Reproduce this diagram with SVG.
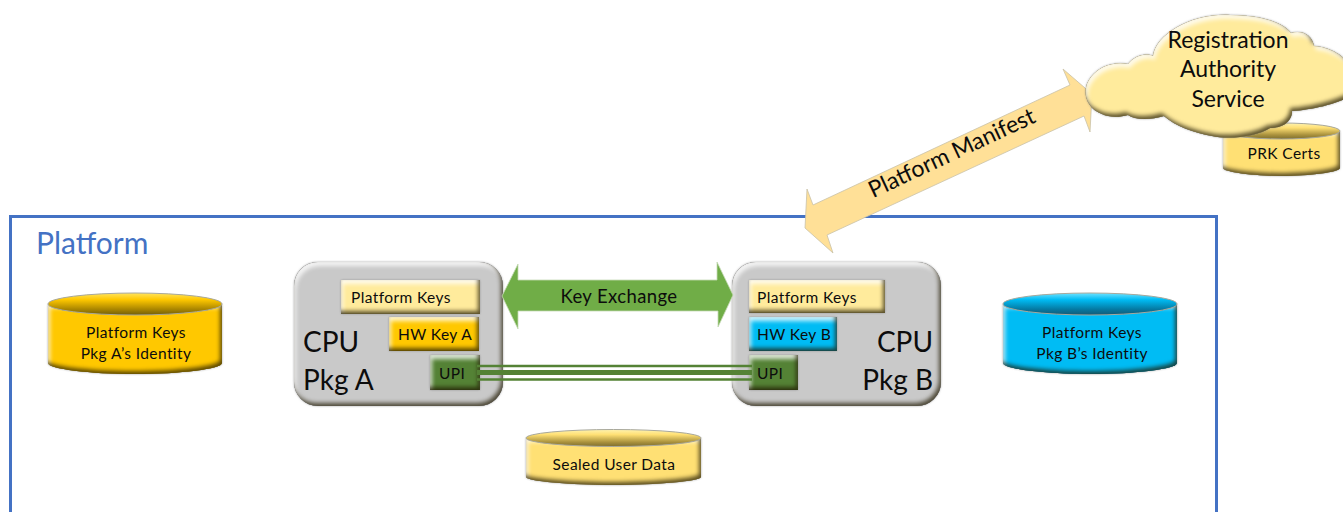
<svg xmlns="http://www.w3.org/2000/svg" width="1343" height="512" viewBox="0 0 1343 512">
<style>
text{font-family:"Lato","Carlito","Liberation Sans",sans-serif;fill:#0c0c0c}
.c{text-anchor:middle}
.s15{font-size:15.5px;letter-spacing:.4px}
.s17{font-size:18.500px;letter-spacing:.4px}
.s23{font-size:23px}
.big{font-size:28px}
.bev{filter:url(#bevel)}
.rim{stroke:#a8a89c;stroke-width:1}
.link{stroke:#548235;fill:none}
</style>
<defs>
<filter id="bevel" x="-8%" y="-8%" width="116%" height="116%" color-interpolation-filters="sRGB">
<feGaussianBlur in="SourceAlpha" stdDeviation="2" result="b"/>
<feOffset in="b" dx="2" dy="3.500" result="o1"/>
<feComposite in="SourceAlpha" in2="o1" operator="out" result="hi"/>
<feFlood flood-color="#fff" flood-opacity=".8"/>
<feComposite in2="hi" operator="in" result="hiC"/>
<feOffset in="b" dx="-2" dy="-3.500" result="o2"/>
<feComposite in="SourceAlpha" in2="o2" operator="out" result="lo"/>
<feFlood flood-color="#1e1800" flood-opacity=".72"/>
<feComposite in2="lo" operator="in" result="loC"/>
<feDropShadow in="SourceAlpha" dx="0" dy="0" stdDeviation="1" flood-color="#888" flood-opacity=".75" result="edge"/>
<feMerge><feMergeNode in="edge"/><feMergeNode in="SourceGraphic"/><feMergeNode in="hiC"/><feMergeNode in="loC"/></feMerge>
</filter>
<linearGradient id="topGold" x1="0" y1="0" x2="0" y2="1"><stop offset="0" stop-color="#ffe45f"/><stop offset=".3" stop-color="#ffc800"/><stop offset=".75" stop-color="#a88400"/><stop offset="1" stop-color="#6f5e0c"/></linearGradient>
<linearGradient id="topBlue" x1="0" y1="0" x2="0" y2="1"><stop offset="0" stop-color="#6fe2ff"/><stop offset=".3" stop-color="#00bcf4"/><stop offset=".75" stop-color="#0578a0"/><stop offset="1" stop-color="#155a75"/></linearGradient>
<linearGradient id="topPale" x1="0" y1="0" x2="0" y2="1"><stop offset="0" stop-color="#fff3b0"/><stop offset=".3" stop-color="#ffe074"/><stop offset=".75" stop-color="#a8903c"/><stop offset="1" stop-color="#7d6e30"/></linearGradient>
</defs>

<g id="platform">
<rect x="10.500" y="216.500" width="1206" height="320" fill="#fff" stroke="#4472c4" stroke-width="3"/>
<text x="36" y="254" font-size="30" style="fill:#4472c4">Platform</text>
</g>

<g id="cyl-a">
<path class="bev" d="M48 304V363C48 369 90 374 135 374S222 369 222 363V304Z" fill="#ffc800"/>
<ellipse class="rim" cx="135" cy="304" rx="87" ry="11" fill="url(#topGold)"/>
<text class="c s15" x="136" y="338">Platform Keys</text>
<text class="c s15" x="136" y="359">Pkg A’s Identity</text>
</g>

<g id="cyl-b">
<path class="bev" d="M1003 304V363C1003 369 1045 374 1090 374S1177 369 1177 363V304Z" fill="#00bcf4"/>
<ellipse class="rim" cx="1090" cy="304" rx="87" ry="11" fill="url(#topBlue)"/>
<text class="c s15" x="1092" y="338">Platform Keys</text>
<text class="c s15" x="1092" y="359">Pkg B’s Identity</text>
</g>

<g id="cyl-sealed">
<path class="bev" d="M526 438V477C526 481 570 485 613 485S701 481 701 477V438Z" fill="#ffe074"/>
<ellipse class="rim" cx="613.500" cy="438" rx="87.500" ry="8.500" fill="url(#topPale)"/>
<text class="c s15" x="614" y="470">Sealed User Data</text>
</g>

<g id="cpu-a">
<rect class="bev" x="294" y="262" width="209" height="144" rx="24" fill="#c9c9c9"/>
<text class="big" x="303" y="352">CPU</text>
<text class="big" x="303" y="390">Pkg A</text>
</g>
<g id="keys-a">
<rect class="bev" x="341" y="280" width="139" height="34" fill="#ffeb9c"/>
<text x="351" y="303" class="s15">Platform Keys</text>
</g>
<g id="hw-a">
<rect class="bev" x="389" y="317" width="90" height="34" fill="#ffc800"/>
<text x="398" y="340" class="s15">HW Key A</text>
</g>

<g id="cpu-b">
<rect class="bev" x="732" y="262" width="209" height="144" rx="24" fill="#c9c9c9"/>
<text class="big" x="933" y="352" text-anchor="end">CPU</text>
<text class="big" x="933" y="390" text-anchor="end">Pkg B</text>
</g>
<g id="keys-b">
<rect class="bev" x="749" y="280" width="136" height="33" fill="#ffeb9c"/>
<text x="757" y="303" class="s15">Platform Keys</text>
</g>
<g id="hw-b">
<rect class="bev" x="749" y="317" width="88" height="34" fill="#00bcf4"/>
<text x="757" y="340" class="s15">HW Key B</text>
</g>

<g id="upi-a">
<rect class="bev" x="430" y="355" width="50" height="35" fill="#548235"/>
<text x="439" y="379" class="s15">UPI</text>
</g>
<g id="upi-b">
<rect class="bev" x="749" y="355" width="49" height="35" fill="#548235"/>
<text x="757" y="379" class="s15">UPI</text>
</g>

<g id="connectors">
<path class="link" stroke-width="2.500" d="M477 366H752M477 379.500H752"/>
<path class="link" stroke-width="5" d="M477 372.500H752"/>
<path d="M502 296L518 264V280H717V262L733 295L718 327V311H518V329Z" fill="#70ad47" stroke="#c5d9b5" stroke-width=".8"/>
<text class="c s17" x="619" y="303">Key Exchange</text>
<path d="M805 228L807 189L813 205L1070 85L1063 69L1092 94L1090 132L1084 116L827 235L833 253Z" fill="#ffe097" stroke="#c9c2a8" stroke-width=".8"/>
<text class="c" font-size="23" transform="translate(955 160) rotate(-25)">Platform Manifest</text>
</g>

<g id="cyl-prk">
<path class="bev" d="M1223 131V168C1223 172 1255 176 1282 176S1340 172 1340 168V131Z" fill="#ffe074"/>
<ellipse class="rim" cx="1281.500" cy="131" rx="58.500" ry="8" fill="url(#topPale)"/>
<text class="c s15" x="1284" y="159">PRK Certs</text>
</g>

<g id="cloud">
<path class="bev" d="M1102 114C1085 108 1081 89 1091 77C1099 66 1115 61 1128 64C1134 56 1146 52 1153 56C1156 34 1192 13 1230 15C1262 15 1284 23 1291 33C1301 30 1312 34 1314 46C1330 47 1345 56 1350 66V96C1338 104 1310 110 1292 111C1292 122 1282 128 1270 128C1258 136 1230 140 1212 136C1195 133 1175 126 1164 116C1150 120 1135 120 1128 115C1118 118 1108 117 1102 114Z" fill="#ffeb9c"/>
<text class="c s23" x="1228" y="48">Registration</text>
<text class="c s23" x="1228" y="77">Authority</text>
<text class="c s23" x="1228" y="107">Service</text>
</g>
</svg>
